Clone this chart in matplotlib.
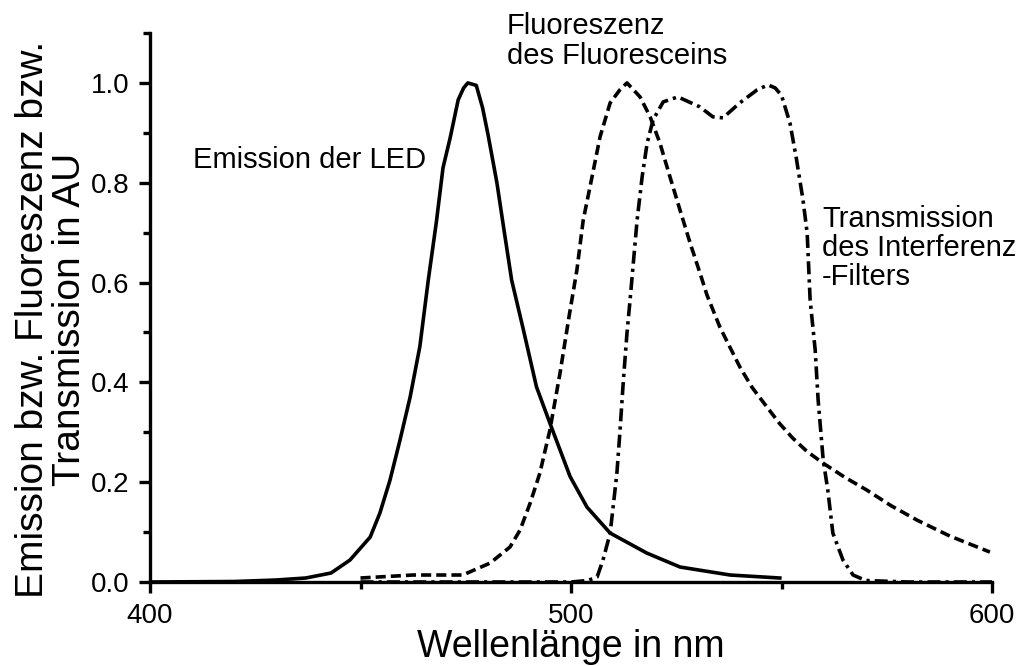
import numpy as np
import matplotlib
matplotlib.use("Agg")
import matplotlib.pyplot as plt
from matplotlib.ticker import MultipleLocator, FormatStrFormatter

plt.rcParams['font.family'] = ['Liberation Sans', 'DejaVu Sans']

# LED emission (solid)
led_nm = [400, 420, 430, 437, 443, 447.5, 452.3, 454.6, 457, 459.4, 461.8, 464.1,
          466.1, 468, 469.6, 471.3, 473.2, 474.5, 475.5, 477.5, 479, 480.3, 482.4,
          484, 485.9, 488.7, 491.8, 495, 499.8, 503.8, 509.3, 518, 525.9, 537.8, 549.6]
led_val = [0.0, 0.001, 0.004, 0.008, 0.018, 0.044, 0.09, 0.138, 0.204, 0.285, 0.371, 0.472,
           0.605, 0.72, 0.83, 0.89, 0.966, 0.99, 1.0, 0.995, 0.95, 0.896, 0.80,
           0.71, 0.605, 0.505, 0.391, 0.318, 0.211, 0.15, 0.098, 0.058, 0.03, 0.014, 0.008]

# fluorescein fluorescence (dashed)
flu_nm = [450, 462.5, 474.3, 480.8, 485.5, 487.9, 490.3, 492.6, 495, 497.4, 499.5, 501.4,
          502.9, 505, 506.9, 509.3, 511.6, 513.3, 516.4, 518.8, 521.1, 523.5, 525.9, 528.3,
          530.6, 532.3, 535.4, 540.1, 543, 546.5, 549.5, 552.7, 556, 559.9, 565, 570.3,
          576, 582.2, 590, 599.5]
flu_val = [0.008, 0.014, 0.014, 0.038, 0.07, 0.104, 0.158, 0.218, 0.305, 0.419, 0.53, 0.625,
           0.725, 0.812, 0.892, 0.96, 0.986, 1.0, 0.972, 0.932, 0.88, 0.812, 0.745, 0.679,
           0.62, 0.575, 0.51, 0.431, 0.39, 0.351, 0.318, 0.288, 0.262, 0.238, 0.21, 0.184,
           0.153, 0.124, 0.092, 0.06]

# interference filter transmission (dash-dot)
filt_nm = [450, 500, 504, 506.2, 507.6, 509.3, 510, 510.9, 511.6, 512.4, 513.3, 514, 515.7,
           516.9, 518.1, 519.5, 521.9, 525.4, 530.6, 533.7, 536.1, 540.1, 544.2, 546.8, 548.5,
           550, 552, 553.5, 555.1, 556.1, 556.8, 558, 558.7, 559.9, 561, 562.2, 564.6, 567,
           570, 580, 600]
filt_val = [0.0, 0.0, 0.003, 0.01, 0.044, 0.098, 0.15, 0.218, 0.298, 0.399, 0.499, 0.562, 0.725,
            0.812, 0.88, 0.926, 0.962, 0.972, 0.952, 0.932, 0.93, 0.96, 0.986, 0.996, 0.99,
            0.975, 0.92, 0.85, 0.766, 0.699, 0.565, 0.465, 0.365, 0.245, 0.184, 0.098, 0.044, 0.014,
            0.003, 0.0, 0.0]

fig = plt.figure(figsize=(10.26, 6.66), dpi=100)
ax = fig.add_axes([150/1026, 84/666, 842/1026, 549/666])

lw = 2.6
ax.plot(led_nm, led_val, color='black', lw=lw)
ax.plot(flu_nm, flu_val, color='black', lw=lw, dashes=(2.8, 1.4))
ax.plot(filt_nm, filt_val, color='black', lw=lw, dashes=(3.6, 1.4, 0.9, 1.4))

ax.set_xlim(400, 600)
ax.set_ylim(0, 1.1)
for s in ['top', 'right']:
    ax.spines[s].set_visible(False)
for s in ['left', 'bottom']:
    ax.spines[s].set_linewidth(2.4)

ax.xaxis.set_major_locator(MultipleLocator(100))
ax.xaxis.set_minor_locator(MultipleLocator(50))
ax.yaxis.set_major_locator(MultipleLocator(0.2))
ax.yaxis.set_minor_locator(MultipleLocator(0.1))
ax.yaxis.set_major_formatter(FormatStrFormatter('%.1f'))
ax.tick_params(which='major', length=8, width=2.4, labelsize=20, pad=7)
ax.tick_params(which='minor', length=5, width=2.4)

ax.set_xlabel('Wellenlänge in nm', fontsize=27, va='baseline')
ax.xaxis.set_label_coords(0.5, -0.137)
ax.set_ylabel('Emission bzw. Fluoreszenz bzw.\nTransmission in AU', fontsize=28,
              linespacing=1.05, va='center', ha='center')
ax.yaxis.set_label_coords(-0.117, 0.478)

ax.text(410.2, 0.846, 'Emission der LED', fontsize=21, va='center', ha='left')
ax.text(484.8, 1.084, 'Fluoreszenz\ndes Fluoresceins', fontsize=21, va='center',
        ha='left', linespacing=1.05, clip_on=False)
ax.text(559.6, 0.669, 'Transmission\ndes Interferenz\n-Filters', fontsize=21,
        va='center', ha='left', linespacing=1.05)

fig.savefig('out.png', dpi=100)
